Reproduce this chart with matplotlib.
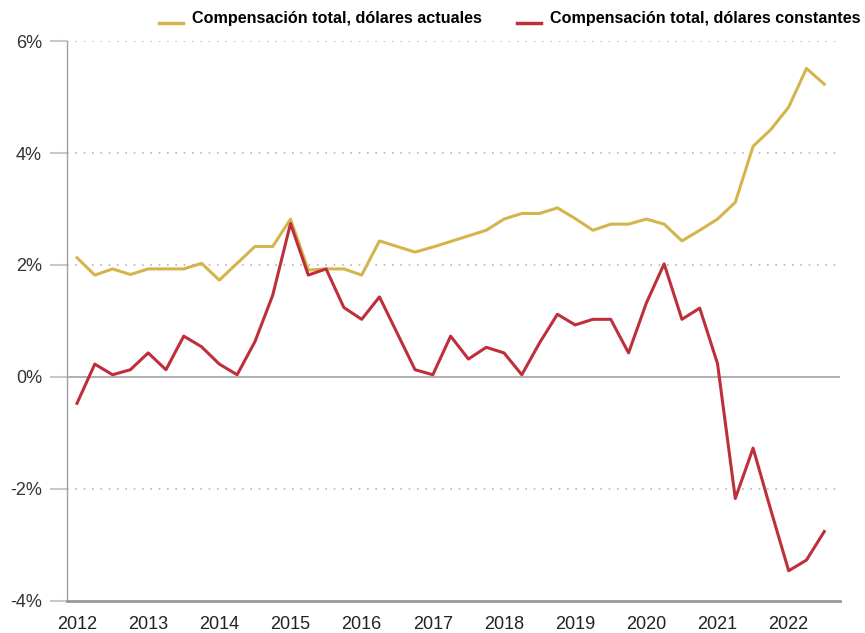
import numpy as np
import matplotlib.pyplot as plt
from matplotlib import font_manager
from matplotlib.legend_handler import HandlerLine2D

# quarterly data, 2012 Q1 - 2022 Q3
start_year = 2012
actuales = [2.13, 1.82, 1.93, 1.83, 1.93, 1.93, 1.93, 2.03, 1.73, 2.03, 2.33, 2.33,
            2.82, 1.91, 1.93, 1.93, 1.82, 2.43, 2.33, 2.23, 2.32, 2.42, 2.52, 2.62,
            2.82, 2.92, 2.92, 3.02, 2.83, 2.62, 2.73, 2.73, 2.82, 2.73, 2.43, 2.62,
            2.82, 3.12, 4.12, 4.42, 4.82, 5.51, 5.23]
constantes = [-0.47, 0.23, 0.04, 0.13, 0.43, 0.13, 0.73, 0.54, 0.23, 0.04, 0.63, 1.46,
              2.74, 1.82, 1.93, 1.24, 1.03, 1.43, 0.78, 0.13, 0.04, 0.73, 0.32, 0.53,
              0.43, 0.04, 0.61, 1.12, 0.93, 1.03, 1.03, 0.43, 1.32, 2.02, 1.03, 1.23,
              0.24, -2.17, -1.27, -2.38, -3.46, -3.27, -2.76]
years = list(range(2012, 2023))
y_ticks = [-4, -2, 0, 2, 4, 6]
labels = ['Compensación total, dólares actuales', 'Compensación total, dólares constantes']

x = start_year + np.arange(len(actuales)) * 0.25

names = {f.name for f in font_manager.fontManager.ttflist}
narrow = 'Liberation Sans Narrow' if 'Liberation Sans Narrow' in names else 'Liberation Sans'

gold = '#d4b54c'
red = '#bf2f3b'


# legend line sits on the text baseline, not centred
class LowLine(HandlerLine2D):
    def create_artists(self, legend, orig_handle, xdescent, ydescent,
                       width, height, fontsize, trans):
        arts = super().create_artists(legend, orig_handle, xdescent, ydescent,
                                      width, height, fontsize, trans)
        for a in arts:
            a.set_ydata(np.asarray(a.get_ydata()) - 0.3 * fontsize)
        return arts


fig = plt.figure(figsize=(8.65, 6.33), dpi=100)
ax = fig.add_axes([0.0775, 0.0506, 0.8935, 0.8846])

ax.plot(x, actuales, color=gold, lw=2.2, label=labels[0], zorder=3)
ax.plot(x, constantes, color=red, lw=2.2, label=labels[1], zorder=4)

ax.set_ylim(-4, 6)
ax.set_xlim(2011.86, 2022.72)
ax.set_yticks(y_ticks)
ax.set_yticklabels([f'{v}%' for v in y_ticks])
ax.set_xticks(years)
ax.set_xticklabels([str(y) for y in years])

for v in y_ticks:
    if v == 0:
        ax.axhline(v, color='#aaaaaa', lw=1.3, zorder=2)
    elif v != -4:
        ax.axhline(v, color='#b5b5b5', lw=1.2, ls=(0, (1, 4)), zorder=1)

for s in ['top', 'right']:
    ax.spines[s].set_visible(False)
ax.spines['left'].set_color('#a0a0a0')
ax.spines['left'].set_linewidth(1.0)
ax.spines['bottom'].set_color('#999999')
ax.spines['bottom'].set_linewidth(2.0)

ax.tick_params(axis='y', length=12, color='#c8c8c8', width=1.5, pad=6,
               labelsize=12, labelcolor='#333333')
ax.tick_params(axis='x', length=0, pad=11, labelsize=12, labelcolor='#222222')
for t in ax.get_xticklabels() + ax.get_yticklabels():
    t.set_family(narrow)
    t.set_fontsize(13)

leg = fig.legend(loc='upper right', bbox_to_anchor=(1.0117, 1.005), ncol=2, frameon=False,
                 prop={'family': narrow, 'weight': 'bold', 'size': 11.6},
                 handlelength=1.5, handletextpad=0.55, columnspacing=2.2,
                 handler_map={plt.Line2D: LowLine()})
for h in leg.get_lines():
    h.set_linewidth(2.5)

fig.savefig('out.png', dpi=100)
